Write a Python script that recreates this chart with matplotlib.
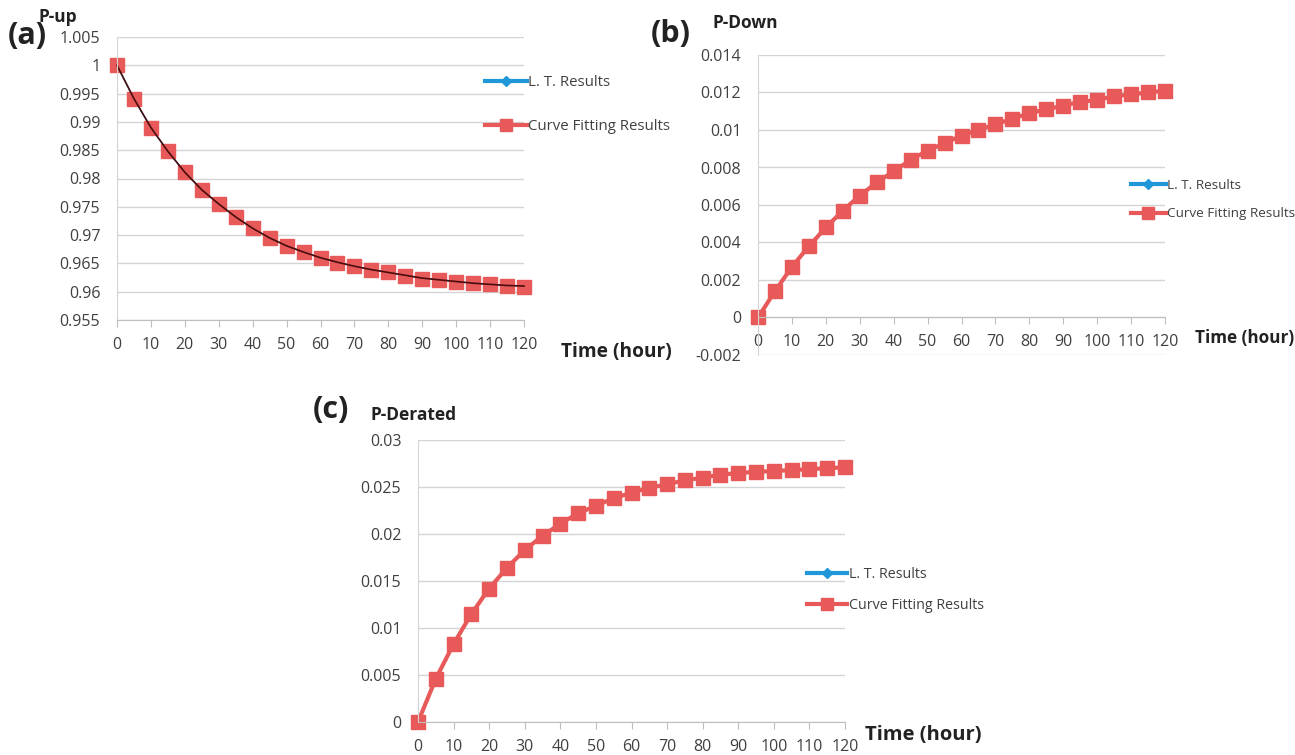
import numpy as np
import matplotlib.pyplot as plt
from matplotlib.lines import Line2D

plt.rcParams['font.family'] = ['Open Sans', 'DejaVu Sans']

# time axis shared by the three panels (hours)
hours = [0, 5, 10, 15, 20, 25, 30, 35, 40, 45, 50, 55, 60,
         65, 70, 75, 80, 85, 90, 95, 100, 105, 110, 115, 120]

# (a) P-up
p_up_lt = [1.0, 0.9941, 0.9890, 0.9848, 0.9811, 0.9780, 0.9755, 0.9732, 0.9712,
           0.9695, 0.9681, 0.9670, 0.9660, 0.9652, 0.9645, 0.9639, 0.9634, 0.9629,
           0.9624, 0.9621, 0.9618, 0.9615, 0.9613, 0.9611, 0.9610]
p_up_fit = [1.0, 0.9940, 0.9889, 0.9848, 0.9811, 0.9779, 0.9755, 0.9732, 0.9712,
            0.9695, 0.9681, 0.9670, 0.9660, 0.9651, 0.9645, 0.9639, 0.9634, 0.9628,
            0.9623, 0.9620, 0.9617, 0.9615, 0.9613, 0.9610, 0.9609]

# (b) P-Down
p_down_lt = [0.0, 0.0014, 0.0027, 0.0038, 0.0048, 0.0057, 0.0065, 0.0072, 0.0078,
             0.0084, 0.0089, 0.0093, 0.0097, 0.0100, 0.0103, 0.0106, 0.0109, 0.0111,
             0.0113, 0.0115, 0.0116, 0.0118, 0.0119, 0.0120, 0.0121]
p_down_fit = p_down_lt

# (c) P-Derated
p_der_lt = [0.0, 0.0046, 0.0083, 0.0115, 0.0142, 0.0164, 0.0183, 0.0198, 0.0211,
            0.0222, 0.0230, 0.0238, 0.0244, 0.0249, 0.0253, 0.0257, 0.0260, 0.0263,
            0.0265, 0.0266, 0.0267, 0.0268, 0.0269, 0.0270, 0.0271]
p_der_fit = p_der_lt

blue = '#1f97d8'
red = '#e85a5a'
grid_c = '#d4d4d4'
txt_c = '#404040'

W, H = 1295, 755
fig = plt.figure(figsize=(W / 100, H / 100), dpi=100)


def px_axes(l, r, t, b):
    return fig.add_axes([l / W, 1 - b / H, (r - l) / W, (b - t) / H])


def style(ax, ylim, ystep):
    ax.set_xlim(0, 120)
    ax.set_ylim(*ylim)
    ax.set_xticks(range(0, 121, 10))
    yt = np.arange(ylim[0], ylim[1] + ystep / 2, ystep)
    ax.set_yticks(yt)
    labels = []
    for v in yt:
        s = f'{v:.3f}'.rstrip('0').rstrip('.')
        labels.append('0' if s in ('-0', '0') else s)
    ax.set_yticklabels(labels)
    ax.grid(axis='y', color=grid_c, lw=1)
    ax.set_axisbelow(True)
    for s in ['top', 'right']:
        ax.spines[s].set_visible(False)
    ax.spines['left'].set_color(grid_c)
    ax.spines['bottom'].set_color('#bfbfbf')
    ax.tick_params(axis='y', length=0, pad=12, labelsize=11.5, labelcolor=txt_c)
    ax.tick_params(axis='x', length=5, color='#bfbfbf', pad=7, labelsize=11.5, labelcolor=txt_c)
    ax.margins(x=0)


handles = [Line2D([], [], color=blue, lw=3, marker='D', ms=5, label='L. T. Results'),
           Line2D([], [], color=red, lw=3, marker='s', ms=8, label='Curve Fitting Results')]


def add_legend(x, y, fs, spacing, hl):
    fig.legend(handles=handles, loc='upper left', bbox_to_anchor=(x / W, 1 - y / H),
               frameon=False, fontsize=fs, handlelength=hl, handletextpad=0.1,
               labelspacing=spacing, borderpad=0, labelcolor=txt_c)


# (a)
ax1 = px_axes(117, 524, 37, 320)
style(ax1, (0.955, 1.005), 0.005)
ax1.plot(hours, p_up_lt, color=blue, lw=1, marker='D', ms=3, clip_on=False)
ax1.plot(hours, p_up_fit, color=red, ls='none', marker='s', ms=10, clip_on=False)
ax1.plot(hours, p_up_lt, color='#4a0c0c', lw=1.2, clip_on=False)
add_legend(477, 68, 10.8, 1.9, 2.8)

# (b)
ax2 = px_axes(758, 1165, 55, 355)
style(ax2, (-0.002, 0.014), 0.002)
ax2.spines['bottom'].set_position(('data', 0))
ax2.plot(hours, p_down_lt, color=blue, lw=1, marker='D', ms=3, clip_on=False)
ax2.plot(hours, p_down_fit, color=red, lw=3, marker='s', ms=9.5, clip_on=False)
add_legend(1124, 172, 9.7, 1.15, 2.6)

# (c)
ax3 = px_axes(418, 845, 440, 722)
style(ax3, (0.0, 0.03), 0.005)
ax3.plot(hours, p_der_lt, color=blue, lw=1, marker='D', ms=3, clip_on=False)
ax3.plot(hours, p_der_fit, color=red, lw=3, marker='s', ms=10, clip_on=False)
add_legend(800, 560, 10.3, 1.1, 2.8)

# panel letters, series titles, axis titles
for x, y, s in [(8, 36, '(a)'), (651, 34, '(b)'), (313, 410, '(c)')]:
    fig.text(x / W, 1 - y / H, s, fontsize=22, fontweight='bold', color='#222222', va='center')
for x, y, s in [(38, 17, 'P-up'), (712, 23, 'P-Down'), (370, 415, 'P-Derated')]:
    fig.text(x / W, 1 - y / H, s, fontsize=12.5, fontweight='bold', color='#222222', va='center')
for x, y, fs in [(561, 352, 13.8), (1195, 338, 12.3), (865, 735, 14.5)]:
    fig.text(x / W, 1 - y / H, 'Time (hour)', fontsize=fs, fontweight='bold',
             color='#222222', va='center')

plt.savefig('out.png', dpi=100)
